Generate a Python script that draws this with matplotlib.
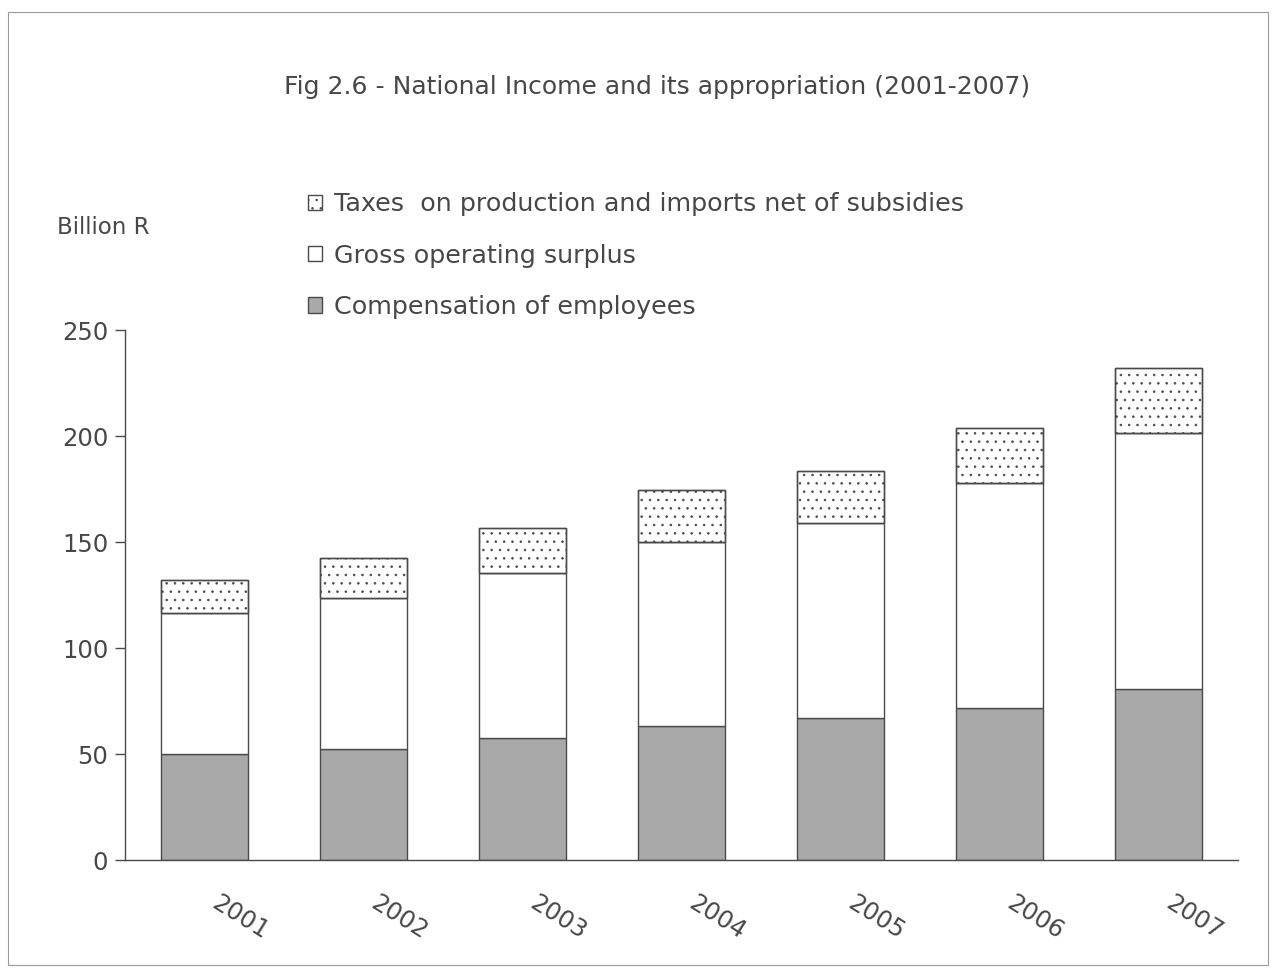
import matplotlib.pyplot as plt
from matplotlib.patches import Rectangle

plt.rcParams['font.family'] = ['DejaVu Sans']
plt.rcParams['hatch.linewidth'] = 0.6
plt.rcParams['hatch.color'] = '#b0b0b0'

years = ['2001', '2002', '2003', '2004', '2005', '2006', '2007']
compensation = [49.9, 52.5, 57.5, 63.2, 67.1, 71.6, 80.7]
gross_surplus = [66.5, 70.9, 77.9, 86.8, 92.0, 106.1, 120.9]
taxes = [15.7, 19.1, 21.2, 24.5, 24.5, 26.2, 30.3]

labels = ['Compensation of employees', 'Gross operating surplus',
          'Taxes  on production and imports net of subsidies']

W, H = 1274, 968
fig = plt.figure(figsize=(W / 100, H / 100), dpi=100)
ax = fig.add_axes([125 / W, 1 - 860 / H, (1238 - 125) / W, 530 / H])

text_col = '#474747'
edge_col = '#4a4a4a'
fs = 17.5
x = range(len(years))
bottom2 = [c + g for c, g in zip(compensation, gross_surplus)]

b1 = ax.bar(x, compensation, width=0.55, color='#a9a9a9', edgecolor=edge_col, linewidth=1)
b2 = ax.bar(x, gross_surplus, width=0.55, bottom=compensation, color='white',
            edgecolor=edge_col, linewidth=1)
b3 = ax.bar(x, taxes, width=0.55, bottom=bottom2, color='white', hatch='..',
            edgecolor=edge_col, linewidth=1)
# outline on top of the dotted fill
for p in b3:
    ax.add_patch(Rectangle(p.get_xy(), p.get_width(), p.get_height(), fill=False,
                           edgecolor=edge_col, linewidth=1))

ax.set_xlim(-0.5, 6.5)
ax.set_ylim(0, 250)
ax.set_yticks([0, 50, 100, 150, 200, 250])
ax.tick_params(axis='y', length=7, width=1, color=edge_col, pad=5,
               labelsize=fs, labelcolor=text_col)
ax.set_xticks([])
for s in ('top', 'right'):
    ax.spines[s].set_visible(False)
for s in ('left', 'bottom'):
    ax.spines[s].set_color(edge_col)
    ax.spines[s].set_linewidth(1)

for i, yr in enumerate(years):
    ax.text(i + 0.1, -0.058, yr, transform=ax.get_xaxis_transform(), rotation=-32,
            rotation_mode='anchor', ha='left', va='top', fontsize=fs, color=text_col)

fig.text(657 / W, 1 - 87 / H, 'Fig 2.6 - National Income and its appropriation (2001-2007)',
         ha='center', va='center', fontsize=18, color=text_col)
fig.text(57 / W, 1 - 228 / H, 'Billion R', ha='left', va='center', fontsize=16.5, color=text_col)

leg = ax.legend([b3, b2, b1], labels[::-1], loc='upper left',
                bbox_to_anchor=(298 / W, 1 - 182 / H), bbox_transform=fig.transFigure,
                frameon=False, fontsize=18.3, handlelength=0.55, handleheight=0.55,
                handletextpad=0.45, labelspacing=1.08, borderaxespad=0)
for t in leg.get_texts():
    t.set_color(text_col)

fig.patches.append(Rectangle((8 / W, 1 - 965 / H), 1260 / W, 953 / H, fill=False,
                             edgecolor='#9a9a9a', linewidth=0.8,
                             transform=fig.transFigure, figure=fig))

fig.savefig('out.png', dpi=100)
